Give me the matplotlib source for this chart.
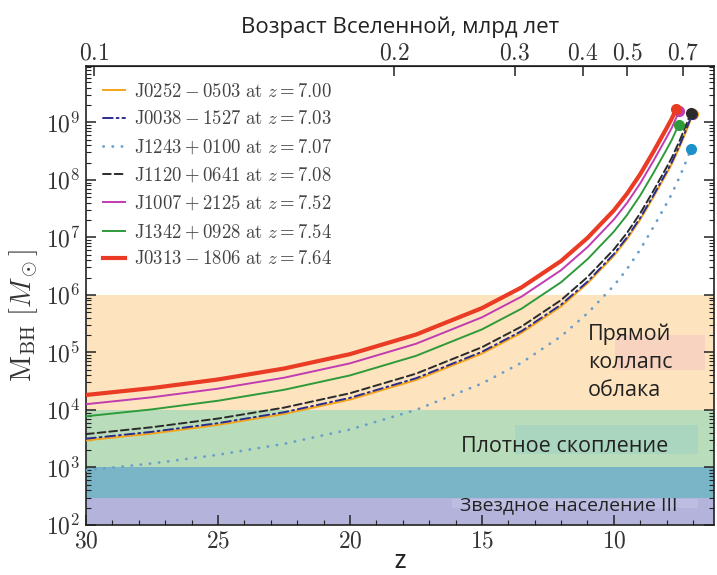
import numpy as np
import matplotlib
matplotlib.use('Agg')
import matplotlib.pyplot as plt
from matplotlib.ticker import (FixedLocator, MultipleLocator, LogLocator,
                               FuncFormatter, NullFormatter, NullLocator)

plt.rcParams['mathtext.fontset'] = 'cm'
plt.rcParams['font.family'] = ['Open Sans', 'DejaVu Sans']

# quasars (name, redshift)
names = ["J0252-0503", "J0038-1527", "J1243+0100", "J1120+0641",
         "J1007+2125", "J1342+0928", "J0313-1806"]
z_obs = [7.00, 7.03, 7.07, 7.08, 7.52, 7.54, 7.64]

# growth tracks: redshift and log10(M_BH / M_sun)
z_hi = [30, 27.5, 25, 22.5, 20, 17.5, 15, 13.5, 12, 11, 10, 9.5, 9, 8.5, 8, 7.8]
z_j0252 = z_hi + [7.5, 7.3, 7.00]
m_j0252 = [3.47, 3.59, 3.74, 3.93, 4.18, 4.52, 4.98, 5.34, 5.80, 6.20, 6.68,
           6.97, 7.31, 7.70, 8.11, 8.28, 8.58, 8.80, 9.15]
z_j0038 = z_hi + [7.5, 7.3, 7.03]
m_j0038 = [3.50, 3.62, 3.77, 3.96, 4.21, 4.55, 5.01, 5.37, 5.83, 6.23, 6.71,
           7.00, 7.34, 7.73, 8.14, 8.31, 8.61, 8.83, 9.14]
z_j1243 = z_hi + [7.5, 7.3, 7.07]
m_j1243 = [2.95, 3.07, 3.22, 3.41, 3.66, 4.00, 4.46, 4.82, 5.28, 5.68, 6.16,
           6.45, 6.79, 7.18, 7.59, 7.76, 8.06, 8.28, 8.54]
z_j1120 = z_hi + [7.5, 7.3, 7.08]
m_j1120 = [3.58, 3.70, 3.85, 4.04, 4.29, 4.63, 5.09, 5.45, 5.91, 6.31, 6.79,
           7.08, 7.42, 7.81, 8.22, 8.39, 8.69, 8.91, 9.17]
z_j1007 = z_hi + [7.52]
m_j1007 = [4.10, 4.22, 4.37, 4.56, 4.81, 5.15, 5.61, 5.97, 6.43, 6.83, 7.31,
           7.60, 7.94, 8.33, 8.74, 8.91, 9.20]
z_j1342 = z_hi + [7.54]
m_j1342 = [3.89, 4.01, 4.16, 4.35, 4.60, 4.94, 5.40, 5.76, 6.22, 6.62, 7.10,
           7.39, 7.73, 8.12, 8.53, 8.70, 8.96]
z_j0313 = z_hi + [7.64]
m_j0313 = [4.26, 4.38, 4.53, 4.72, 4.97, 5.31, 5.77, 6.13, 6.59, 6.99, 7.47,
           7.76, 8.10, 8.49, 8.90, 9.07, 9.23]

tracks = [(z_j0252, m_j0252), (z_j0038, m_j0038), (z_j1243, m_j1243),
          (z_j1120, m_j1120), (z_j1007, m_j1007), (z_j1342, m_j1342),
          (z_j0313, m_j0313)]
colors = ['#f5a31a', '#2a2d8c', '#6a9fcb', '#2b2b2b', '#c23bb0', '#2e9a3a', '#ea3b24']
dot_colors = ['#f5a31a', '#2a2d8c', '#1e90c8', '#2b2b2b', '#c23bb0', '#2e9a3a', '#ea3b24']
styles = ['-', (0, (5, 2, 1, 2)), (0, (0.1, 3.2)), (0, (4, 2)), '-', '-', '-']
widths = [1.4, 1.4, 2.0, 1.4, 1.4, 1.4, 3.0]

# age ticks on top, Gyr
age_ticks = [0.1, 0.2, 0.3, 0.4, 0.5, 0.7]

H0, om, ol = 70.0, 0.3, 0.7
th = 977.8 / H0


def z_to_age(z):
    z = np.asarray(z, float)
    a = np.clip(1 + z, 1e-3, None) ** -1.5
    return 2 * th / (3 * np.sqrt(ol)) * np.arcsinh(np.sqrt(ol / om) * a)


def age_to_z(t):
    t = np.clip(np.asarray(t, float), 1e-6, None)
    x = np.sinh(t * 3 * np.sqrt(ol) / (2 * th)) * np.sqrt(om / ol)
    return x ** (-2.0 / 3.0) - 1


fig = plt.figure(figsize=(7.17, 5.75), dpi=100)
ax = fig.add_axes([0.120, 0.087, 0.876, 0.798])

# seed regions
ax.axhspan(1e4, 1e6, color='#fde4bf', lw=0, zorder=0)
ax.axhspan(1e3, 1e4, color='#b9ddbb', lw=0, zorder=0)
ax.axhspan(2.9e2, 1e3, color='#79b5c7', lw=0, zorder=0)
ax.axhspan(1e2, 2.9e2, color='#b3b3dc', lw=0, zorder=0)
ax.axhspan(5.0e4, 2.0e5, xmin=0.842, xmax=0.986, color='#f8d4c0', lw=0, zorder=0.5)
ax.axhspan(1.7e3, 5.5e3, xmin=0.683, xmax=0.975, color='#aad6bf', lw=0, zorder=0.5)
ax.axhspan(2.0e2, 2.8e2, xmin=0.582, xmax=0.975, color='#bcbde0', lw=0, zorder=0.5)

for (zz, mm), name, zo, c, ls, lw in zip(tracks, names, z_obs, colors, styles, widths):
    label = r'$\mathrm{%s\ at}\ z = %.2f$' % (name, zo)
    ax.plot(zz, 10 ** np.array(mm), color=c, ls=ls, lw=lw, label=label,
            dash_capstyle='round', zorder=3)

for (zz, mm), dc in zip(tracks, dot_colors):
    ax.plot(zz[-1], 10 ** mm[-1], 'o', color=dc, ms=7, zorder=4)

ax.text(10.98, 6.8e4, 'Прямой\nколлапс\nоблака', fontsize=15.5, color='#222222',
        ha='left', va='center', linespacing=1.45, zorder=5)
ax.text(11.86, 2.3e3, 'Плотное скопление', fontsize=15.5, color='#222222',
        ha='center', va='center', zorder=5)
ax.text(11.70, 2.2e2, 'Звездное население III', fontsize=14, color='#222222',
        ha='center', va='center', zorder=5)

ax.set_yscale('log')
ax.set_xlim(30, 6.2)
ax.set_ylim(1e2, 9.5e9)

ax.xaxis.set_major_locator(MultipleLocator(5))
ax.xaxis.set_minor_locator(MultipleLocator(1))
ax.xaxis.set_major_formatter(FuncFormatter(lambda v, p: r'$%d$' % v))
ax.yaxis.set_major_locator(LogLocator(base=10, numticks=20))
ax.yaxis.set_minor_locator(LogLocator(base=10, subs=np.arange(2, 10), numticks=20))
ax.yaxis.set_minor_formatter(NullFormatter())
ax.yaxis.set_major_formatter(FuncFormatter(lambda v, p: r'$10^{%d}$' % round(np.log10(v))))

ax.tick_params(which='both', direction='in', top=False, right=True, labelsize=17,
               color='#222222', labelcolor='#333333')
ax.tick_params(which='major', length=7, width=1.1, pad=4)
ax.tick_params(axis='x', which='major', pad=3)
ax.tick_params(which='minor', length=3.5, width=0.8)
for s in ax.spines.values():
    s.set_linewidth(1.2)
    s.set_color('#222222')

fig.text(0.558, 0.021, 'Z', fontsize=14, fontweight='semibold', color='#222222',
         ha='center', va='center')
ax.set_ylabel(r'$\mathrm{M_{BH}}\ [M_\odot]$', fontsize=20.5, color='#333333')
ax.yaxis.set_label_coords(-0.073, 0.4575)

sec = ax.secondary_xaxis('top', functions=(z_to_age, age_to_z))
sec.xaxis.set_major_locator(FixedLocator(age_ticks))
sec.xaxis.set_minor_locator(NullLocator())
sec.xaxis.set_major_formatter(FuncFormatter(lambda v, p: r'$%g$' % v))
sec.tick_params(direction='in', length=7, width=1.1, labelsize=17, pad=0.5,
                color='#222222', labelcolor='#333333')
sec.set_xlabel('Возраст Вселенной, млрд лет', fontsize=16, color='#222222', labelpad=6)

ax.legend(loc='upper left', frameon=False, fontsize=13.5, handlelength=1.2,
          handletextpad=0.45, labelspacing=0.5, labelcolor='#444444')

fig.savefig('out.png', dpi=100)
